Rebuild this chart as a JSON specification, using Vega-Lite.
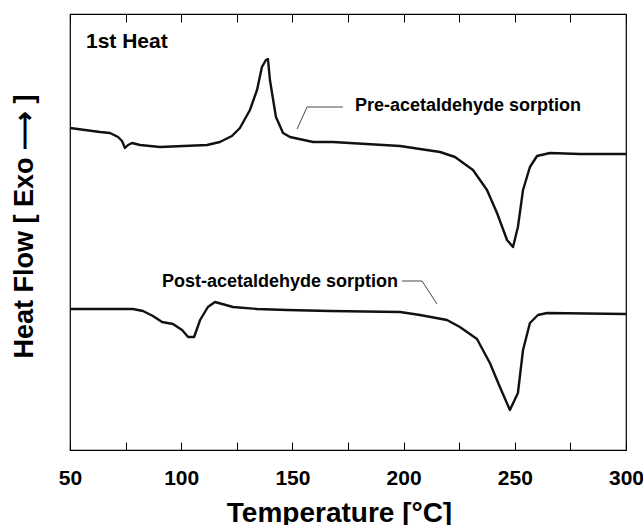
{
  "$schema": "https://vega.github.io/schema/vega-lite/v6.json",
  "autosize": "none",
  "width": 556,
  "height": 436,
  "padding": {"left": 70, "top": 14, "right": 17, "bottom": 75},
  "background": "white",
  "config": {
    "view": {"stroke": "black", "strokeWidth": 1.2},
    "font": "Liberation Sans"
  },
  "datasets": {
    "curves": [
      {"s": "Pre", "T": 50.0, "hf": 322},
      {"s": "Pre", "T": 63.5, "hf": 318},
      {"s": "Pre", "T": 68.0, "hf": 317},
      {"s": "Pre", "T": 71.6, "hf": 313},
      {"s": "Pre", "T": 73.4, "hf": 309},
      {"s": "Pre", "T": 74.7, "hf": 302},
      {"s": "Pre", "T": 76.1, "hf": 305},
      {"s": "Pre", "T": 77.9, "hf": 307},
      {"s": "Pre", "T": 81.5, "hf": 305},
      {"s": "Pre", "T": 90.5, "hf": 303},
      {"s": "Pre", "T": 111.6, "hf": 305},
      {"s": "Pre", "T": 117.4, "hf": 308},
      {"s": "Pre", "T": 122.8, "hf": 314},
      {"s": "Pre", "T": 126.4, "hf": 322},
      {"s": "Pre", "T": 130.9, "hf": 340},
      {"s": "Pre", "T": 134.1, "hf": 360},
      {"s": "Pre", "T": 136.3, "hf": 383},
      {"s": "Pre", "T": 138.1, "hf": 390},
      {"s": "Pre", "T": 139.0, "hf": 391},
      {"s": "Pre", "T": 139.9, "hf": 370},
      {"s": "Pre", "T": 142.6, "hf": 333},
      {"s": "Pre", "T": 145.8, "hf": 317},
      {"s": "Pre", "T": 148.9, "hf": 313},
      {"s": "Pre", "T": 159.3, "hf": 308},
      {"s": "Pre", "T": 168.2, "hf": 308},
      {"s": "Pre", "T": 198.4, "hf": 304},
      {"s": "Pre", "T": 216.4, "hf": 298},
      {"s": "Pre", "T": 223.1, "hf": 293},
      {"s": "Pre", "T": 231.2, "hf": 280},
      {"s": "Pre", "T": 237.5, "hf": 260},
      {"s": "Pre", "T": 242.0, "hf": 237},
      {"s": "Pre", "T": 246.5, "hf": 210},
      {"s": "Pre", "T": 249.2, "hf": 203},
      {"s": "Pre", "T": 251.4, "hf": 223},
      {"s": "Pre", "T": 253.7, "hf": 260},
      {"s": "Pre", "T": 256.8, "hf": 283},
      {"s": "Pre", "T": 260.0, "hf": 294},
      {"s": "Pre", "T": 265.8, "hf": 297},
      {"s": "Pre", "T": 279.3, "hf": 296},
      {"s": "Pre", "T": 300.0, "hf": 296},
      {"s": "Post", "T": 50.0, "hf": 141},
      {"s": "Post", "T": 78.3, "hf": 141},
      {"s": "Post", "T": 82.8, "hf": 139},
      {"s": "Post", "T": 87.3, "hf": 134},
      {"s": "Post", "T": 91.4, "hf": 128},
      {"s": "Post", "T": 96.3, "hf": 126},
      {"s": "Post", "T": 100.4, "hf": 120},
      {"s": "Post", "T": 103.1, "hf": 113},
      {"s": "Post", "T": 105.8, "hf": 113},
      {"s": "Post", "T": 108.5, "hf": 130},
      {"s": "Post", "T": 112.0, "hf": 143},
      {"s": "Post", "T": 115.2, "hf": 148},
      {"s": "Post", "T": 123.3, "hf": 143},
      {"s": "Post", "T": 134.1, "hf": 141},
      {"s": "Post", "T": 147.6, "hf": 140},
      {"s": "Post", "T": 166.9, "hf": 139},
      {"s": "Post", "T": 198.4, "hf": 138},
      {"s": "Post", "T": 207.4, "hf": 135},
      {"s": "Post", "T": 219.5, "hf": 130},
      {"s": "Post", "T": 225.3, "hf": 123},
      {"s": "Post", "T": 233.0, "hf": 111},
      {"s": "Post", "T": 238.8, "hf": 87},
      {"s": "Post", "T": 243.3, "hf": 63},
      {"s": "Post", "T": 247.8, "hf": 40},
      {"s": "Post", "T": 251.4, "hf": 57},
      {"s": "Post", "T": 253.7, "hf": 100},
      {"s": "Post", "T": 256.8, "hf": 127},
      {"s": "Post", "T": 260.4, "hf": 135},
      {"s": "Post", "T": 264.5, "hf": 137},
      {"s": "Post", "T": 300.0, "hf": 136}
    ],
    "leaders": [
      {"s": "Pre", "T": 152.1, "hf": 321},
      {"s": "Pre", "T": 156.6, "hf": 343},
      {"s": "Pre", "T": 172.7, "hf": 343},
      {"s": "Post", "T": 199.3, "hf": 169},
      {"s": "Post", "T": 208.3, "hf": 169},
      {"s": "Post", "T": 215.0, "hf": 146}
    ]
  },
  "layer": [
    {
      "data": {"name": "curves"},
      "mark": {"type": "line", "color": "#111", "strokeWidth": 2.4, "strokeJoin": "round"},
      "encoding": {
        "x": {
          "field": "T", "type": "quantitative",
          "scale": {"domain": [50, 300], "nice": false, "zero": false},
          "axis": {
            "orient": "bottom",
            "values": [50, 100, 150, 200, 250, 300],
            "grid": false,
            "domain": false,
            "ticks": false,
            "labelFont": "Liberation Sans",
            "labelFontSize": 21,
            "labelFontWeight": "bold",
            "labelColor": "black",
            "labelPadding": 17,
            "labelFlush": false,
            "title": "Temperature [°C]",
            "titleFont": "Liberation Sans",
            "titleFontSize": 28,
            "titleFontWeight": "bold",
            "titleColor": "black",
            "titleX": 269,
            "titleY": 71,
            "titleBaseline": "alphabetic",
            "titleAlign": "center"
          }
        },
        "y": {
          "field": "hf", "type": "quantitative",
          "scale": {"domain": [0, 436], "nice": false, "zero": false},
          "axis": {
            "labels": false,
            "ticks": false,
            "grid": false,
            "domain": false,
            "title": "Heat Flow [ Exo ⟶ ]",
            "titleFont": "Liberation Sans",
            "titleFontSize": 27,
            "titleFontWeight": "bold",
            "titleColor": "black",
            "titleAngle": -90,
            "titleX": -46,
            "titleY": 212,
            "titleAlign": "center",
            "titleBaseline": "middle"
          }
        },
        "detail": {"field": "s"}
      }
    },
    {
      "data": {"name": "leaders"},
      "mark": {"type": "line", "color": "#333", "strokeWidth": 0.9},
      "encoding": {
        "x": {
          "field": "T", "type": "quantitative",
          "axis": {
            "orient": "top",
            "offset": -436,
            "values": [50, 75, 100, 125, 150, 175, 200, 225, 250, 275, 300],
            "tickSize": 8,
            "tickColor": "black",
            "tickWidth": 1,
            "labelColor": "black",
            "labelOpacity": 0,
            "labelFontSize": 1,
            "domain": false,
            "grid": false,
            "title": null
          }
        },
        "y": {"field": "hf", "type": "quantitative"},
        "detail": {"field": "s"}
      }
    },
    {
      "data": {"values": [{"text": "Pre-acetaldehyde sorption", "T": 178.1, "hf": 339}]},
      "mark": {"type": "text", "font": "Liberation Sans", "fontSize": 18, "fontWeight": "bold", "color": "black", "align": "left", "baseline": "alphabetic"},
      "encoding": {
        "x": {
          "field": "T", "type": "quantitative",
          "axis": {
            "orient": "bottom",
            "offset": -436,
            "values": [50, 75, 100, 125, 150, 175, 200, 225, 250, 275, 300],
            "tickSize": 8,
            "tickColor": "black",
            "tickWidth": 1,
            "labelColor": "black",
            "labelOpacity": 0,
            "labelFontSize": 1,
            "domain": false,
            "grid": false,
            "title": null
          }
        },
        "y": {"field": "hf", "type": "quantitative"},
        "text": {"field": "text"}
      }
    },
    {
      "data": {"values": [{"text": "Post-acetaldehyde sorption", "T": 197.5, "hf": 163}]},
      "mark": {"type": "text", "font": "Liberation Sans", "fontSize": 18, "fontWeight": "bold", "color": "black", "align": "right", "baseline": "alphabetic"},
      "encoding": {
        "x": {"field": "T", "type": "quantitative", "axis": null},
        "y": {"field": "hf", "type": "quantitative"},
        "text": {"field": "text"}
      }
    },
    {
      "data": {"values": [{"text": "1st Heat", "T": 57.2, "hf": 402}]},
      "mark": {"type": "text", "font": "Liberation Sans", "fontSize": 21, "fontWeight": "bold", "color": "black", "align": "left", "baseline": "alphabetic"},
      "encoding": {
        "x": {"field": "T", "type": "quantitative", "axis": null},
        "y": {"field": "hf", "type": "quantitative"},
        "text": {"field": "text"}
      }
    }
  ],
  "resolve": {"axis": {"x": "independent"}}
}
